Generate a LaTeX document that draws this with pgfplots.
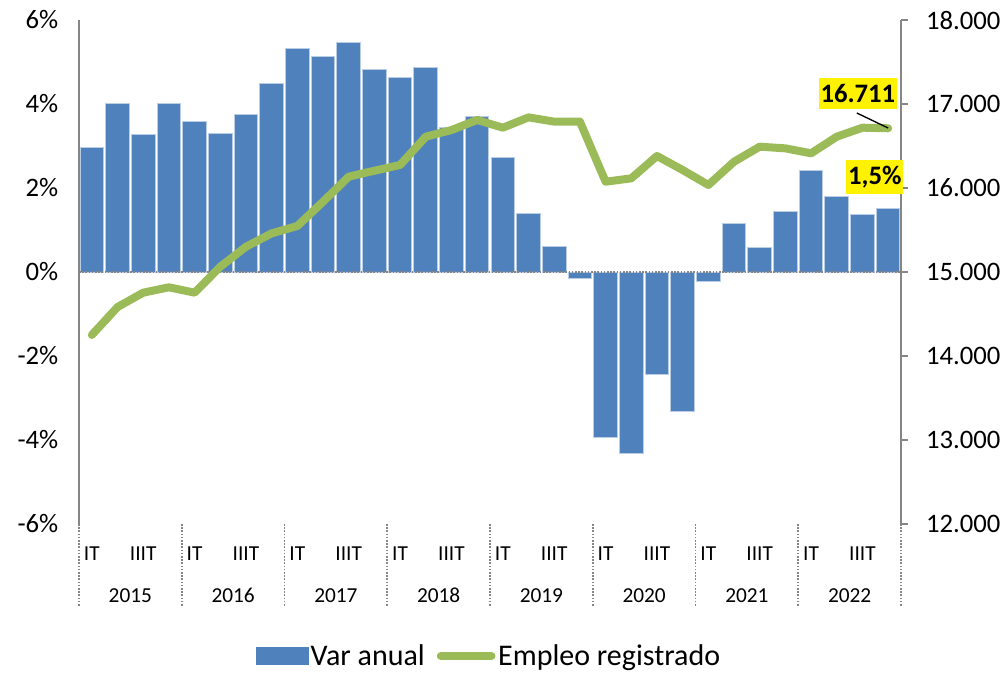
\documentclass[border=0pt]{standalone}
\usepackage{pgfplots}
\pgfplotsset{compat=1.18}
\usepackage{fontspec}
\setmainfont{Carlito}
\definecolor{barblue}{RGB}{79,129,189}
\definecolor{baredge}{RGB}{185,205,229}
\definecolor{linegreen}{RGB}{155,187,89}
\definecolor{axgray}{RGB}{134,134,134}
\newcommand\tickfont{\fontsize{20}{24}\selectfont}
\newcommand\legfont{\fontsize{22.5}{26}\selectfont}
\newcommand\catfont{\fontsize{16}{19}\selectfont}
\begin{document}
\begin{tikzpicture}[x=1pt,y=1pt]
\useasboundingbox (-59.25,-111) rectangle (695.25,393);
\begin{axis}[
  at={(0,0)}, anchor=south west, scale only axis,
  width=616.5pt, height=378pt,
  xmin=0.5, xmax=32.5, ymin=-6, ymax=6,
  clip=false,
  ybar, bar width=0.92,
  axis x line*=bottom, axis y line*=left,
  x axis line style={draw=none},
  y axis line style={axgray, line width=1.5pt},
  major tick length=0pt,
  ytick={-6,-4,...,6},
  yticklabel={\pgfmathprintnumber{\tick}\%},
  yticklabel style={font=\tickfont, anchor=east, xshift=-12pt},
  /pgf/number format/assume math mode=true,
  xtick={1,3,...,31},
  xticklabels={IT,IIIT,IT,IIIT,IT,IIIT,IT,IIIT,IT,IIIT,IT,IIIT,IT,IIIT,IT,IIIT},
  xticklabel style={font=\catfont, anchor=center, yshift=-22pt},
  extra x ticks={2.5,6.5,10.5,14.5,18.5,22.5,26.5,30.5},
  extra x tick labels={2015,2016,2017,2018,2019,2020,2021,2022},
  extra x tick style={xticklabel style={font=\catfont, anchor=center, yshift=-31.5pt}},
]
\addplot[fill=barblue, draw=baredge, line width=0.75pt] coordinates {
(1,2.97) (2,4.02) (3,3.27) (4,4.02) (5,3.58) (6,3.30) (7,3.74) (8,4.48)
(9,5.33) (10,5.12) (11,5.46) (12,4.81) (13,4.63) (14,4.86) (15,3.43) (16,3.71)
(17,2.73) (18,1.40) (19,0.60) (20,-0.15) (21,-3.94) (22,-4.32) (23,-2.45) (24,-3.32)
(25,-0.22) (26,1.16) (27,0.59) (28,1.43) (29,2.41) (30,1.79) (31,1.36) (32,1.50)
};
\draw[axgray, line width=1.2pt, dash pattern=on 1.2pt off 1.2pt] (axis cs:0.5,0) -- (axis cs:32.5,0);
\pgfplotsinvokeforeach{0.5,4.5,8.5,12.5,16.5,20.5,24.5,28.5,32.5}{
  \draw[axgray, line width=1.2pt, dash pattern=on 1.2pt off 1.2pt] (axis cs:#1,-6) -- ([yshift=-62pt]axis cs:#1,-6);
}
\end{axis}
\begin{axis}[
  at={(0,0)}, anchor=south west, scale only axis,
  width=616.5pt, height=378pt,
  xmin=0.5, xmax=32.5, ymin=12000, ymax=18000,
  clip=false,
  axis x line=none, axis y line*=right,
  y axis line style={axgray, line width=1.5pt},
  ytick={12000,13000,...,18000},
  scaled y ticks=false,
  yticklabel style={font=\tickfont, anchor=west, xshift=10pt, /pgf/number format/.cd, fixed, precision=0, 1000 sep={.}},
  /pgf/number format/assume math mode=true,
  tick align=outside, major tick length=5.25pt,
  every tick/.style={axgray, line width=1.5pt},
  legend style={at={(0.499,-0.262)}, anchor=center, draw=none, fill=none,
    font=\legfont, legend columns=2, inner sep=0pt,
    /tikz/every even column/.append style={column sep=7pt}},
  legend cell align=left,
]
\addlegendimage{legend image code/.code={\fill[barblue] (0pt,-6.4pt) rectangle (39pt,6.4pt);}}
\addlegendentry{Var anual}
\addplot[linegreen, line width=6pt, line join=round, line cap=round,
  legend image code/.code={\draw[linegreen,line width=6pt,line cap=round] (3pt,0pt) -- (41pt,0pt);}] coordinates {
(1,14250) (2,14583) (3,14754) (4,14818) (5,14754) (6,15063) (7,15301) (8,15460)
(9,15548) (10,15837) (11,16135) (12,16206) (13,16274) (14,16611) (15,16690) (16,16810)
(17,16718) (18,16841) (19,16790) (20,16790) (21,16075) (22,16115) (23,16381) (24,16214)
(25,16036) (26,16313) (27,16492) (28,16472) (29,16413) (30,16611) (31,16718) (32,16711)
};
\addlegendentry{Empleo registrado}
\draw[black, line width=1pt] (axis cs:30.78,16893) -- (axis cs:32,16714);
\node[fill=yellow, font=\bfseries\tickfont, inner xsep=1.5pt, inner ysep=4.5pt] at (axis cs:30.82,17125) {16.711};
\node[fill=yellow, font=\bfseries\tickfont, inner xsep=1.5pt, inner ysep=4.5pt] at (axis cs:31.48,16131) {1,5\%};
\end{axis}
\end{tikzpicture}
\end{document}
